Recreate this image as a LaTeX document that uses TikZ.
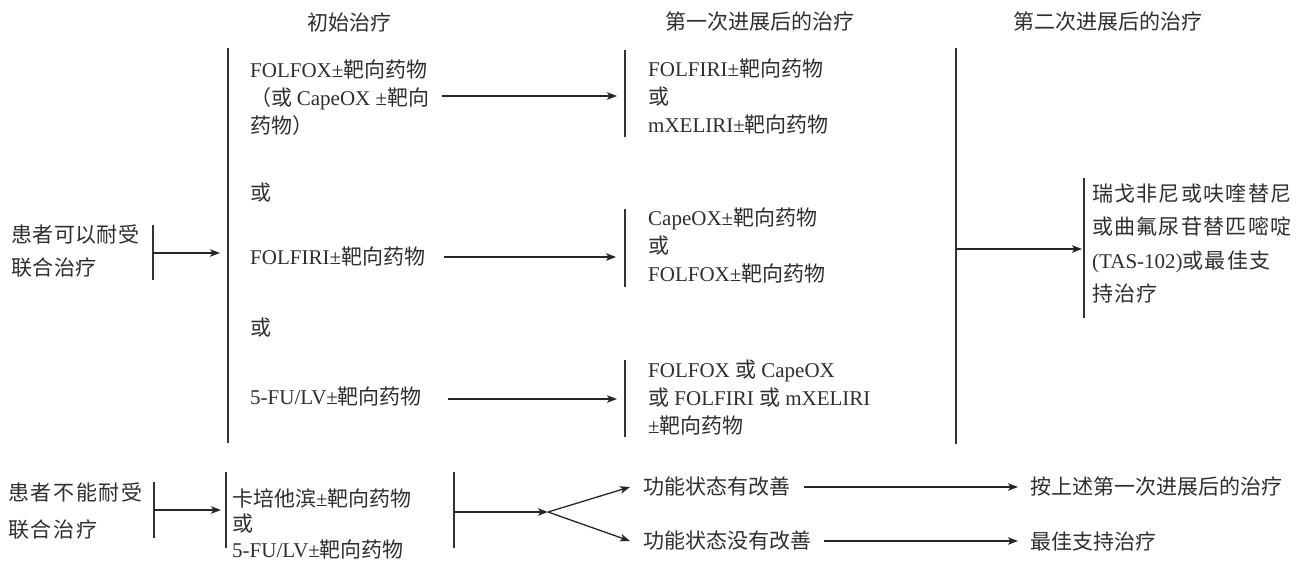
\documentclass[tikz,border=0pt]{standalone}
\usepackage{fontspec}
\setmainfont{Noto Sans CJK SC}
\newfontfamily\lat{Liberation Serif}
\usetikzlibrary{arrows.meta}
\newcommand\E[1]{{\lat #1}}
\begin{document}
\begin{tikzpicture}[x=1pt,y=-1pt,
  txt/.style={inner sep=0pt, anchor=west, align=left, text=black!82, font=\fontsize{21}{28}\selectfont},
  hd/.style={inner sep=0pt, text=black!82, font=\fontsize{21}{28}\selectfont},
  bar/.style={line width=1.1pt, draw=black!80},
  arr/.style={line width=1.3pt, draw=black!85, -{Stealth[length=10pt,width=7.5pt,inset=2.5pt]}},
]
\useasboundingbox (0,0) rectangle (1306,562);

% headers
\node[hd] (h1) at (349,22) {初始治疗};
\node[hd] (h2) at (760,22) {第一次进展后的治疗};
\node[hd] (h3) at (1108,22) {第二次进展后的治疗};

% main vertical lines
\coordinate (L0t) at (228,48); \coordinate (L0b) at (228,443);
\draw[bar] (L0t) -- (L0b);
\coordinate (L2t) at (956,48); \coordinate (L2b) at (956,444);
\draw[bar] (L2t) -- (L2b);

% patients who tolerate
\node[txt, font=\fontsize{21}{33}\selectfont\addfontfeature{LetterSpace=2}] (pA) at (11,251.5) {患者可以耐受\\联合治疗};
\coordinate (B1t) at (153,225); \coordinate (B1b) at (153,280);
\draw[bar] (B1t) -- (B1b);
\coordinate (B1m) at (153,253); \coordinate (L0m) at (220,253);
\draw[arr] (B1m) -- (L0m);

% initial treatments
\node[txt] (t1) at (250,98) {\E{FOLFOX±}靶向药物\\（或 \E{CapeOX ±}靶向\\药物）};
\node[txt] (o1) at (250,193) {或};
\node[txt] (t2) at (250,257) {\E{FOLFIRI±}靶向药物};
\node[txt] (o2) at (250,328) {或};
\node[txt] (t3) at (250,397) {\E{5-FU/LV±}靶向药物};

% second column bars
\coordinate (C1t) at (625,50); \coordinate (C1b) at (625,137);
\coordinate (C2t) at (625,209); \coordinate (C2b) at (625,287);
\coordinate (C3t) at (625,360); \coordinate (C3b) at (625,437);
\draw[bar] (C1t) -- (C1b);
\draw[bar] (C2t) -- (C2b);
\draw[bar] (C3t) -- (C3b);

\coordinate (a1s) at (442,96); \coordinate (a1e) at (617,96);
\coordinate (a2s) at (444,257); \coordinate (a2e) at (616,257);
\coordinate (a3s) at (448,399); \coordinate (a3e) at (617,399);
\draw[arr] (a1s) -- (a1e);
\draw[arr] (a2s) -- (a2e);
\draw[arr] (a3s) -- (a3e);

\node[txt] (s1) at (648,97) {\E{FOLFIRI±}靶向药物\\或\\\E{mXELIRI±}靶向药物};
\node[txt] (s2) at (648,246) {\E{CapeOX±}靶向药物\\或\\\E{FOLFOX±}靶向药物};
\node[txt] (s3) at (648,398) {\E{FOLFOX }或\E{ CapeOX}\\或\E{ FOLFIRI }或\E{ mXELIRI}\\\E{±}靶向药物};

% third column
\coordinate (L2m) at (956,249); \coordinate (D1m) at (1082,249);
\draw[arr] (L2m) -- (D1m);
\coordinate (D1t) at (1084,178); \coordinate (D1b) at (1084,318);
\draw[bar] (D1t) -- (D1b);
\node[txt, font=\fontsize{21}{33.3}\selectfont\addfontfeature{LetterSpace=6}] (u1) at (1092,243.5) {瑞戈非尼或呋喹替尼\\或曲氟尿苷替匹嘧啶\\\E{(TAS-102)}或最佳支\\持治疗};

% patients who cannot tolerate
\node[txt, font=\fontsize{21}{37}\selectfont\addfontfeature{LetterSpace=8}] (pB) at (8,511.5) {患者不能耐受\\联合治疗};
\coordinate (B2t) at (154,482); \coordinate (B2b) at (154,538);
\draw[bar] (B2t) -- (B2b);
\coordinate (B2m) at (154,510); \coordinate (K0m) at (221,510);
\draw[arr] (B2m) -- (K0m);
\coordinate (K0t) at (226,472); \coordinate (K0b) at (226,548);
\draw[bar] (K0t) -- (K0b);
\node[txt, font=\fontsize{21}{25.5}\selectfont] (k) at (232,523.5) {卡培他滨\E{±}靶向药物\\或\\\E{5-FU/LV±}靶向药物};
\coordinate (K1t) at (454,472); \coordinate (K1b) at (454,548);
\draw[bar] (K1t) -- (K1b);
\coordinate (K1m) at (454,512); \coordinate (V) at (548,512);
\draw[arr] (K1m) -- (V);
\coordinate (Vu) at (630,487); \coordinate (Vd) at (630,541);
\draw[arr] (V) -- (Vu);
\draw[arr] (V) -- (Vd);

\node[txt] (f1) at (643,487) {功能状态有改善};
\node[txt] (f2) at (643,541) {功能状态没有改善};
\node[txt] (r1) at (1030,487) {按上述第一次进展后的治疗};
\node[txt] (r2) at (1030,541) {最佳支持治疗};
\draw[arr] ([xshift=14pt]f1.east) -- ([xshift=-12pt]r1.west);
\draw[arr] ([xshift=13pt]f2.east) -- ([xshift=-12pt]r2.west);
\end{tikzpicture}
\end{document}
